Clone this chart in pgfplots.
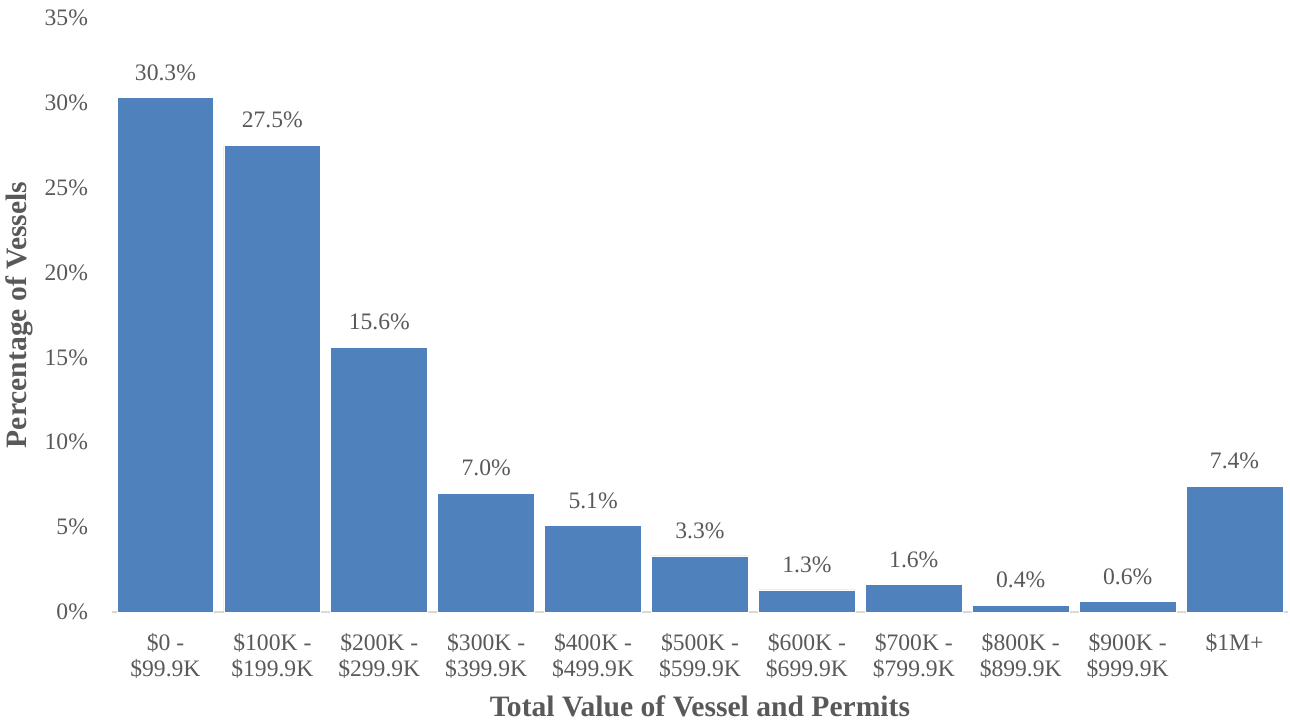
\documentclass[border=0pt]{standalone}
\usepackage{pgfplots}
\pgfplotsset{compat=1.18}
\usepackage{fontspec}
\setmainfont{Liberation Serif}
\definecolor{barblue}{HTML}{4F81BD}
\definecolor{txtgray}{HTML}{595959}
\definecolor{axgray}{HTML}{D9D9D9}
\begin{document}
\begin{tikzpicture}
\begin{axis}[
  scale only axis,
  width=588pt, height=297pt,
  xmin=-0.5, xmax=10.5,
  ymin=0, ymax=35,
  ytick={0,5,...,35},
  yticklabel={\pgfmathprintnumber{\tick}\%},
  /pgf/number format/assume math mode=true,
  xtick={0,...,10},
  xticklabels={{\$0 -\\\$99.9K},{\$100K -\\\$199.9K},{\$200K -\\\$299.9K},{\$300K -\\\$399.9K},{\$400K -\\\$499.9K},{\$500K -\\\$599.9K},{\$600K -\\\$699.9K},{\$700K -\\\$799.9K},{\$800K -\\\$899.9K},{\$900K -\\\$999.9K},{\$1M+}},
  xticklabel style={align=center, font=\fontsize{11.8}{13}\selectfont, text=txtgray, anchor=north, yshift=-7pt},
  yticklabel style={font=\fontsize{11.8}{13}\selectfont, text=txtgray, xshift=-8.5pt},
  major tick length=0pt,
  axis y line*=left,
  y axis line style={draw=none},
  axis x line*=bottom,
  x axis line style={draw=axgray, line width=1pt, -},
  xlabel={\textbf{Total Value of Vessel and Permits}},
  ylabel={\textbf{Percentage of Vessels}},
  xlabel style={font=\fontsize{14.8}{16}\selectfont, text=txtgray, at={(axis description cs:0.5,0)}, anchor=south, yshift=-56pt},
  ylabel style={font=\fontsize{14.8}{16}\selectfont, text=txtgray, at={(axis description cs:0,0.5)}, anchor=south, yshift=36pt},
  clip=false,
]
\addplot[ybar, bar width=0.905, fill=barblue, draw=white, line width=0.4pt,
  point meta=explicit symbolic,
  nodes near coords={\pgfplotspointmeta\%},
  every node near coord/.append style={font=\fontsize{11.8}{13}\selectfont, text=txtgray, yshift=5pt}]
coordinates {
(0,30.3) [30.3]
(1,27.5) [27.5]
(2,15.6) [15.6]
(3,7.0) [7.0]
(4,5.1) [5.1]
(5,3.3) [3.3]
(6,1.3) [1.3]
(7,1.6) [1.6]
(8,0.4) [0.4]
(9,0.6) [0.6]
(10,7.4) [7.4]
};
\end{axis}
\pgfresetboundingbox
\path[use as bounding box] ([shift={(-56pt,-55.5pt)}]current axis.south west) rectangle ([shift={(1pt,9pt)}]current axis.north east);
\end{tikzpicture}
\end{document}
